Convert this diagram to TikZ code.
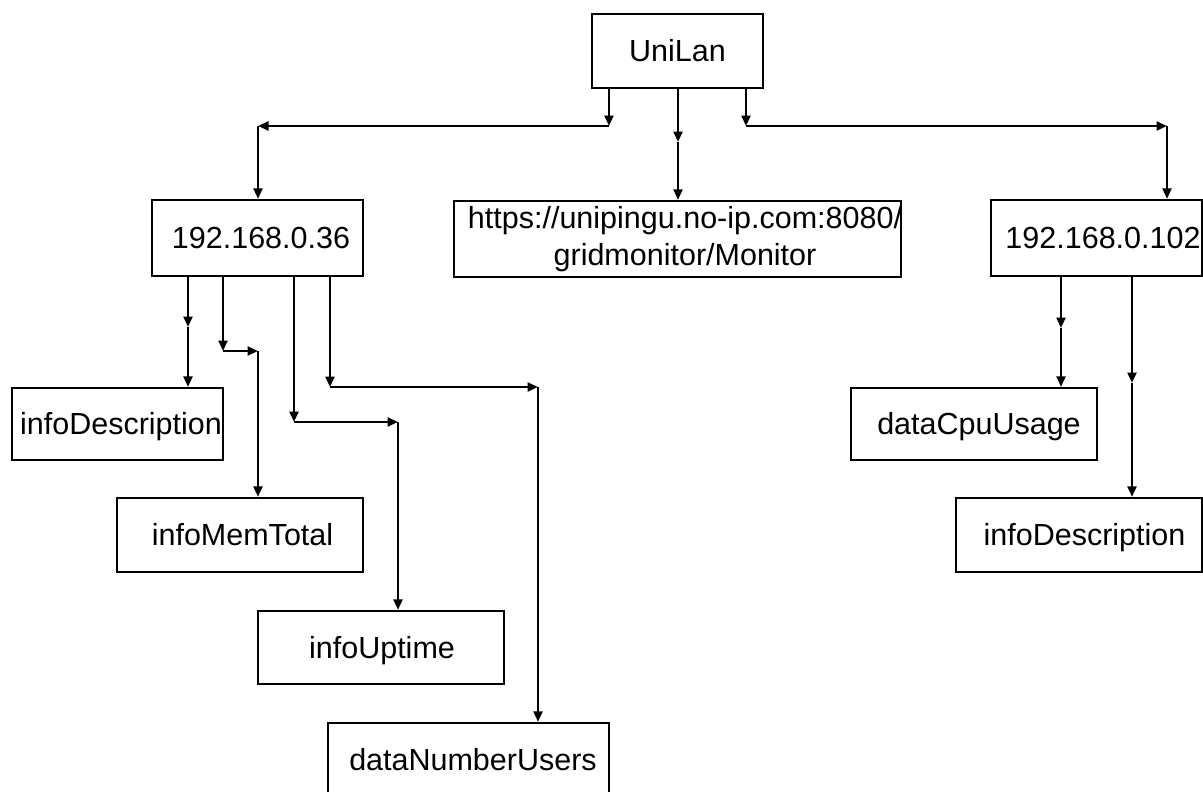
\documentclass[tikz,border=0pt]{standalone}
\usepackage{fontspec}
\setmainfont{Liberation Sans}
\usetikzlibrary{arrows.meta}
\begin{document}
\begin{tikzpicture}[x=1pt,y=-1pt,
  boxbase/.style={draw, line width=2.3pt, inner sep=0pt, font=\fontsize{30.5}{37.5}\selectfont},
  box/.style={boxbase, text height=21.8pt, text depth=0pt},
  arr/.style={line width=2.3pt, -{Triangle[length=10.5pt,width=9pt]}}
]
\useasboundingbox (0,0) rectangle (1203,792);

% nodes
\node[box, minimum width=171pt, minimum height=74pt] (uni) at (677.5,51) {UniLan};
\node[box, minimum width=211pt, minimum height=76pt] (ip36) at (257.5,238) {\hspace*{7pt}192.168.0.36};
\node[boxbase, align=center, minimum width=447pt, minimum height=76pt] (url) at (677.5,239)
  {\makebox[447pt]{\hspace*{15pt}https://unipingu.no-ip.com:8080/}\\\makebox[447pt]{\hspace*{15pt}gridmonitor/Monitor}};
\node[box, minimum width=211pt, minimum height=76pt] (ip102) at (1096.5,238) {\hspace*{13pt}192.168.0.102};
\node[box, minimum width=211pt, minimum height=72pt] (desc1) at (117.5,424) {\hspace*{7pt}infoDescription};
\node[box, minimum width=246pt, minimum height=74pt] (mem) at (240,535) {\hspace*{5pt}infoMemTotal};
\node[box, minimum width=246pt, minimum height=73pt] (up) at (381,647.5) {\hspace*{2pt}infoUptime};
\node[box, minimum width=281pt, minimum height=74pt] (users) at (468.5,760) {\hspace*{9pt}dataNumberUsers};
\node[box, minimum width=246pt, minimum height=72pt] (cpu) at (974,424) {\hspace*{10pt}dataCpuUsage};
\node[box, minimum width=246pt, minimum height=74pt] (desc2) at (1079,535) {\hspace*{11pt}infoDescription};

% bend points
\coordinate (ua) at (609,126);
\coordinate (uab) at (258,126);
\coordinate (ub) at (678,142);
\coordinate (uc) at (746,126);
\coordinate (ucb) at (1167,126);

\coordinate (a1) at (188,327);
\coordinate (a2) at (223,351);
\coordinate (a2b) at (258,351);
\coordinate (a3) at (294,422);
\coordinate (a3b) at (398,422);
\coordinate (a4) at (330,387);
\coordinate (a4b) at (538,387);

\coordinate (b1) at (1061,328);
\coordinate (b2) at (1132,383);

% UniLan connectors
\draw[arr] (uni.south -| ua) -- (ua);
\draw[arr] (ua) -- (uab);
\draw[arr] (uab) -- (uab |- ip36.north);
\draw[arr] (uni.south -| ub) -- (ub);
\draw[arr] (ub) -- (ub |- url.north);
\draw[arr] (uni.south -| uc) -- (uc);
\draw[arr] (uc) -- (ucb);
\draw[arr] (ucb) -- (ucb |- ip102.north);

% 192.168.0.36 connectors
\draw[arr] (ip36.south -| a1) -- (a1);
\draw[arr] (a1) -- (a1 |- desc1.north);
\draw[arr] (ip36.south -| a2) -- (a2);
\draw[arr] (a2) -- (a2b);
\draw[arr] (a2b) -- (a2b |- mem.north);
\draw[arr] (ip36.south -| a3) -- (a3);
\draw[arr] (a3) -- (a3b);
\draw[arr] (a3b) -- (a3b |- up.north);
\draw[arr] (ip36.south -| a4) -- (a4);
\draw[arr] (a4) -- (a4b);
\draw[arr] (a4b) -- (a4b |- users.north);

% 192.168.0.102 connectors
\draw[arr] (ip102.south -| b1) -- (b1);
\draw[arr] (b1) -- (b1 |- cpu.north);
\draw[arr] (ip102.south -| b2) -- (b2);
\draw[arr] (b2) -- (b2 |- desc2.north);
\end{tikzpicture}
\end{document}
